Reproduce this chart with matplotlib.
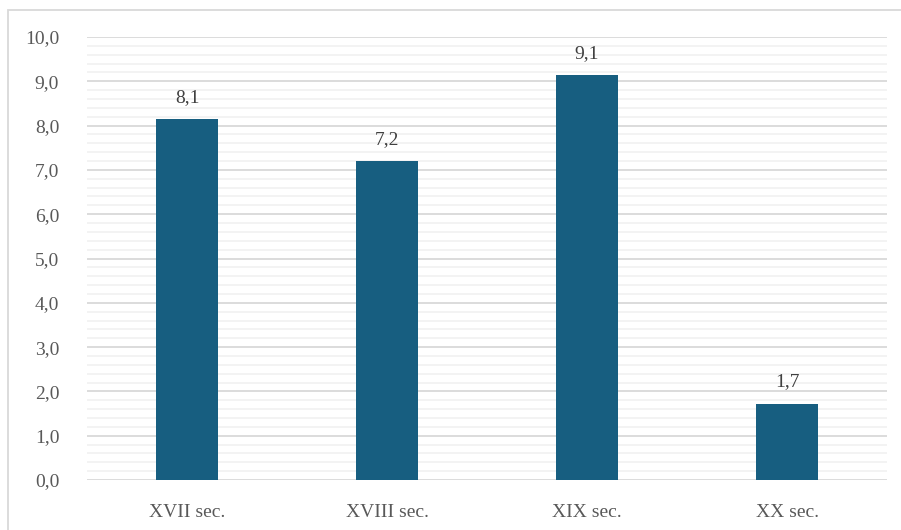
import matplotlib
matplotlib.use("Agg")
import matplotlib.pyplot as plt
import numpy as np
from matplotlib.patches import Rectangle

# data
categories = ["XVII sec.", "XVIII sec.", "XIX sec.", "XX sec."]
values = [8.14, 7.2, 9.14, 1.72]
yticks = np.arange(0, 10.01, 1.0)

plt.rcParams["font.family"] = ["Liberation Serif", "DejaVu Serif"]

fig = plt.figure(figsize=(9.01, 5.30), dpi=100)
ax = fig.add_axes([87 / 901, 50 / 530, 800 / 901, 443 / 530])

x = np.arange(len(categories))
bars = ax.bar(x, values, width=0.31, color="#175E80", zorder=3)

for xi, v in zip(x, values):
    ax.text(xi, v + 0.3, f"{v:.1f}".replace(".", ","), ha="center", va="bottom",
            fontsize=14, color="#404040")

ax.set_xlim(-0.5, len(categories) - 0.5)
ax.set_ylim(0, 10)
ax.set_yticks(yticks)
ax.set_yticklabels([f"{t:.1f}".replace(".", ",") for t in yticks])
ax.set_yticks(np.arange(0, 10.01, 0.2), minor=True)
ax.set_xticks(x)
ax.set_xticklabels(categories)

ax.grid(axis="y", which="major", color="#D9D9D9", linewidth=1.3, zorder=0)
ax.grid(axis="y", which="minor", color="#F2F2F2", linewidth=1.3, zorder=0)
ax.tick_params(axis="both", which="both", length=0, labelsize=14, colors="#595959")
ax.tick_params(axis="y", pad=20)
ax.tick_params(axis="x", pad=17)
for s in ax.spines.values():
    s.set_visible(False)

# outer chart border
fig.patches.append(Rectangle((8 / 901, -0.05), 1.1, (530 - 10) / 530 + 0.05,
                             transform=fig.transFigure, fill=False,
                             edgecolor="#D9D9D9", linewidth=1.3))

fig.savefig("out.png", dpi=100)
